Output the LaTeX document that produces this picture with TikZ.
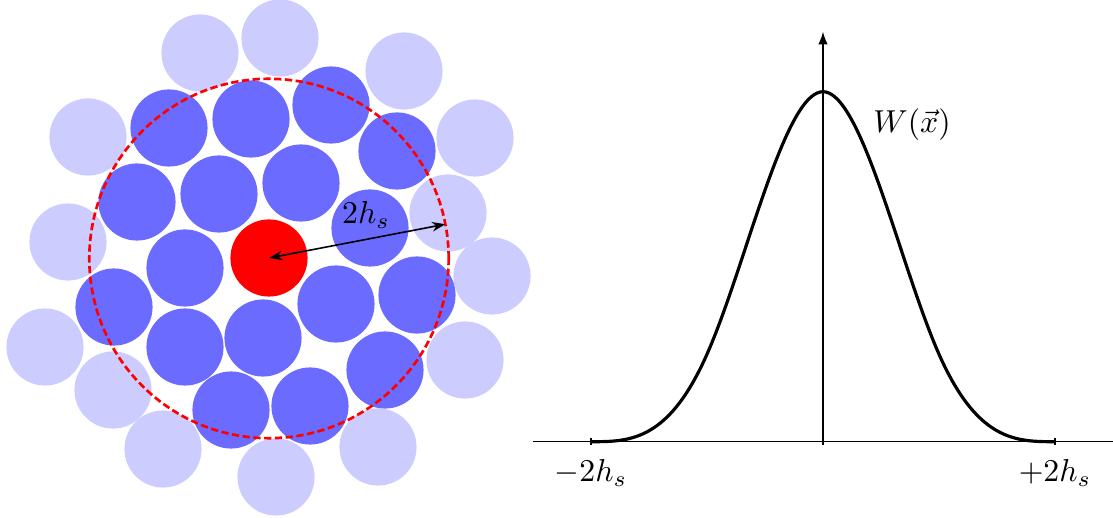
\documentclass[tikz,border=0pt]{standalone}
\usepackage{amsmath, amssymb}
\usepackage{tikz}
\usetikzlibrary{arrows.meta}
\usepackage{xcolor}

\begin{document}
\begin{tikzpicture}[
          x=0.315pt, y=-0.315pt,
          part/.style={circle,inner sep=0pt,outer sep=0pt,minimum size=24.3pt},
          far/.style={part,fill=blue!20},
          near/.style={part,fill=blue!58},
          self/.style={part,fill=red},
          support/.style={circle,draw=red,line width=0.85pt,dash pattern=on 2.3pt off 1.1pt,
                          inner sep=0pt,outer sep=0pt,minimum size=113.2pt},
          kernel/.style={line width=1pt},
          tick/.style={line width=0.4pt},
          declare function={wa(\q)=max(0,2-abs(\q)); wb(\q)=max(0,1-abs(\q));
                            kern(\q)=0.25*wa(\q)*wa(\q)*wa(\q)-wb(\q)*wb(\q)*wb(\q);},
        ]
        \useasboundingbox (0,0) rectangle (1113,518);
        % outer neighbours
        \foreach \x/\y [count=\i] in {200/53,280/38,404/71,88/137,475/138,448/213,68/242,
                                      492/276,45/347,465/360,113/390,163/449,276/477,378/447} {
          \node[far] (o\i) at (\x,\y) {};
        }
        % neighbours inside the support
        \foreach \x/\y [count=\i] in {169/128,251/119,331/105,397/151,137/202,219/194,301/183,
                                      370/228,185/268,114/307,336/304,417/295,185/347,263/338,
                                      385/370,231/410,310/406} {
          \node[near] (n\i) at (\x,\y) {};
        }
        \node[self] (me) at (269,258) {};
        \node[support] (supp) at (269,258.5) {};
        \draw[line width=0.5pt,{Stealth[length=4.2pt,width=3pt]}-{Stealth[length=4.2pt,width=3pt]}]
          (me.center) -- (supp.11) node[above,pos=0.55] {$2h_s$};

        % kernel plot
        \coordinate (o) at (823,441.7);
        \coordinate (l) at (591,441.7);
        \coordinate (r) at (1055,441.7);
        \draw[line width=0.45pt] (533,441.7) -- (1113,441.7);
        \draw[line width=0.45pt,-{Latex[length=4pt,width=3pt]}] ([yshift=-1.1pt]o) -- (823,31.7);
        \draw[tick] ([yshift=1.1pt]l) -- ([yshift=-1.1pt]l) node[below=1pt] (lm) {$-2h_s$};
        \draw[tick] ([yshift=1.1pt]r) -- ([yshift=-1.1pt]r) node[below=1pt] (rm) {$+2h_s$};
        \draw[kernel] plot[domain=-2:2,samples=161,smooth] ({823+116*\x},{441.7-350*kern(\x)});
        \node (wlab) at (912,125) {$W(\vec{x})$};
      \end{tikzpicture}
\end{document}
